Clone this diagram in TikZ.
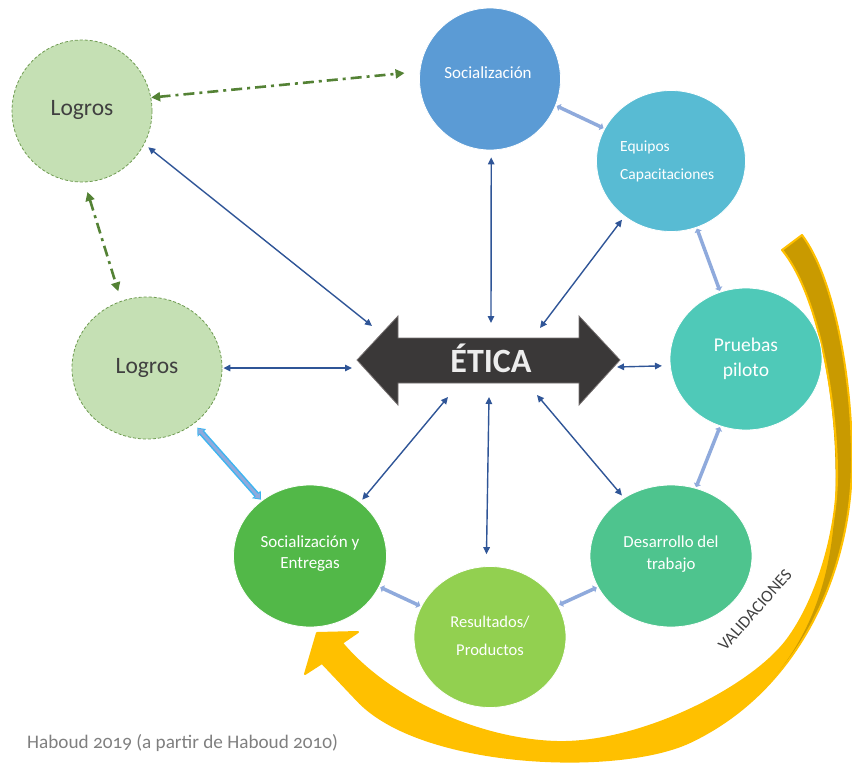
\documentclass[tikz,border=0pt]{standalone}
\usepackage{fontspec}
\setmainfont{Carlito}
\newfontfamily\capfont[Numbers=OldStyle]{Carlito}
\usetikzlibrary{arrows.meta,shapes.geometric}

\definecolor{logrofill}{HTML}{C5E0B4}
\definecolor{logroedge}{HTML}{6E9A50}
\definecolor{logrotext}{HTML}{404040}
\definecolor{socblue}{HTML}{5B9BD5}
\definecolor{equcyan}{HTML}{58BBD3}
\definecolor{pruteal}{HTML}{4FC9B8}
\definecolor{desgreen}{HTML}{4EC48E}
\definecolor{soegreen}{HTML}{52B848}
\definecolor{resgreen}{HTML}{92D050}
\definecolor{linkblue}{HTML}{2F5597}
\definecolor{lightlink}{HTML}{8FAADC}
\definecolor{skyedge}{HTML}{3DB5F0}
\definecolor{dashgreen}{HTML}{548235}
\definecolor{eticafill}{HTML}{3A3838}
\definecolor{eticaedge}{HTML}{767171}
\definecolor{eticatext}{HTML}{EDEDED}
\definecolor{arcyellow}{HTML}{FFC000}
\definecolor{arcgold}{HTML}{C99A00}
\definecolor{captiongray}{HTML}{7F7F7F}

% outline of the curved validation arrow
\def\ribbonpath{(802,235) .. controls (835,279) and (852,380) .. (852,460)
  .. controls (852,570) and (800,690) .. (690,742)
  .. controls (618,776) and (420,768) .. (357,700)
  -- (322,663) -- (305,674) -- (317,633) -- (358,632) -- (342,643)
  .. controls (390,700) and (480,740) .. (557,742)
  .. controls (640,744) and (751,688) .. (787,640)
  .. controls (817,600) and (838,530) .. (837,470)
  .. controls (836,395) and (817,292) .. (782,250) -- cycle}

\begin{document}
\begin{tikzpicture}[x=1pt,y=-1pt,
  stage/.style={ellipse, inner sep=0pt, draw=white, line width=0.8pt},
  logro/.style={ellipse, inner sep=0pt, fill=logrofill, draw=logroedge,
    line width=0.8pt, dash pattern=on 3pt off 2pt},
  stagetext/.style={text=white, align=center, inner sep=0pt},
  logrotxt/.style={text=logrotext, inner sep=0pt, font=\fontsize{23.5}{26}\selectfont},
  biglink/.style={draw=linkblue, line width=1.4pt,
    arrows={Triangle[length=7pt,width=6.5pt]-Triangle[length=7pt,width=6.5pt]}},
  steplink/.style={draw=lightlink, line width=3.5pt,
    arrows={Triangle[length=3.5pt,width=7.5pt]-Triangle[length=3.5pt,width=7.5pt]}},
  greenlink/.style={draw=dashgreen, line width=2.6pt,
    dash pattern=on 11pt off 5pt on 3pt off 5pt,
    arrows={Triangle[length=9pt,width=9pt]-Triangle[length=9pt,width=9pt]}},
]
\useasboundingbox (0,0) rectangle (852,766);

% curved validation arrow: yellow ribbon whose upper part shows its darker back
\fill[arcyellow] \ribbonpath;
\fill[arcgold] (802,235) .. controls (835,279) and (852,380) .. (852,460)
  .. controls (852,542.5) and (822.75,630.6) .. (761.7,691.5)
  .. controls (800,650) and (838,590) .. (835.5,470)
  .. controls (835,395) and (817,292) .. (783,249.5) -- cycle;
\draw[arcyellow, line width=2pt, line join=round] \ribbonpath;
\node[text=logrotext, rotate=48.5, inner sep=0pt,
  font=\fontsize{17}{17}\selectfont] (valid) at (755,610) {VALIDACIONES};

% stage circles
\node[logro, minimum width=140pt, minimum height=142pt] (logA) at (82,111) {};
\node[logro, minimum width=150pt, minimum height=142pt] (logB) at (147,368) {};
\node[stage, fill=socblue, minimum width=141pt, minimum height=142pt] (soc) at (490,79) {};
\node[stage, fill=equcyan, minimum width=149pt, minimum height=141pt] (equ) at (671,161) {};
\node[stage, fill=pruteal, minimum width=152pt, minimum height=142pt] (pru) at (746,359) {};
\node[stage, fill=desgreen, minimum width=162pt, minimum height=142pt] (des) at (671,556) {};
\node[stage, fill=soegreen, minimum width=153pt, minimum height=142pt] (soe) at (310,556) {};
\node[stage, fill=resgreen, minimum width=152pt, minimum height=141pt] (res) at (490,637) {};

% central double arrow
\fill[eticafill, draw=eticaedge, line width=0.8pt]
  (357,360) -- (398,316) -- (398,338) -- (579,338) -- (579,316) -- (620,360)
  -- (579,405) -- (579,383) -- (398,383) -- (398,405) -- cycle;
\node[text=eticatext, inner sep=0pt, anchor=base,
  font=\fontsize{34}{34}\selectfont\bfseries] (etica) at (491,372) {ÉTICA};

% end points around the central arrow
\coordinate (eNW) at (372,326);
\coordinate (eW)  at (352,368);
\coordinate (eN)  at (491,323);
\coordinate (eNE) at (540,328);
\coordinate (eE)  at (617,367);
\coordinate (eSE) at (537,395);
\coordinate (eS)  at (489,397);
\coordinate (eSW) at (448,397);

% links to the central arrow
\draw[biglink, shorten <=5pt] (logA.-28) -- (eNW);
\draw[biglink, shorten <=1pt] (logB.0) -- (eW);
\draw[biglink, shorten <=7pt] (soc.-89) -- (eN);
\draw[biglink, shorten <=4pt] (equ.-130) -- (eNE);
\draw[biglink, shorten <=8pt] (pru.185) -- (eE);
\draw[biglink, shorten <=3pt] (des.129) -- (eSE);
\draw[biglink, shorten <=12pt] (res.93) -- (eS);
\draw[biglink, shorten <=3pt] (soe.47) -- (eSW);

% links between neighbouring stages
\draw[steplink, shorten <=1pt, shorten >=1pt] (soc.-22) -- (equ.154);
\draw[steplink, shorten <=1pt, shorten >=1pt] (equ.-69) -- (pru.111);
\draw[steplink, shorten <=1pt, shorten >=1pt] (pru.-111) -- (des.70);
\draw[steplink, shorten <=1pt, shorten >=1pt] (des.-157) -- (res.25);
\draw[steplink, shorten <=1pt, shorten >=1pt] (res.156) -- (soe.-24);

% framed link between the lower achievements and deliveries
\draw[draw=skyedge, line width=6pt, shorten <=5pt, shorten >=1pt,
  arrows={Triangle[length=7pt,width=11pt]-Triangle[length=7pt,width=11pt]}]
  (logB.-50) -- (soe.131);
\draw[draw=lightlink, line width=3pt, shorten <=6.5pt, shorten >=2.5pt,
  arrows={Triangle[length=4.5pt,width=7pt]-Triangle[length=4.5pt,width=7pt]}]
  (logB.-50) -- (soe.131);

% dash-dot links of the achievements
\draw[greenlink, shorten >=15pt] (logA.11) -- (soc.174);
\draw[greenlink, shorten <=10pt, shorten >=10pt] (logA.-88) -- (logB.111);

% labels
\node[logrotxt] (tlogA) at (82,110) {Logros};
\node[logrotxt] (tlogB) at (147,368) {Logros};
\node[stagetext, font=\fontsize{17}{22}\selectfont] (tsoc) at (488,73) {Socialización};
\node[stagetext, align=left, anchor=west, font=\fontsize{15.5}{28}\selectfont]
  (tequ) at (620,161) {Equipos\\Capacitaciones};
\node[stagetext, font=\fontsize{19.5}{25}\selectfont] (tpru) at (746,359) {Pruebas\\piloto};
\node[stagetext, font=\fontsize{16.8}{22}\selectfont] (tdes) at (671,554) {Desarrollo del\\trabajo};
\node[stagetext, font=\fontsize{17}{21}\selectfont] (tsoe) at (310,554) {Socialización y\\Entregas};
\node[stagetext, font=\fontsize{16.5}{28}\selectfont] (tres) at (490,636) {Resultados/\\Productos};

\node[text=captiongray, anchor=west, inner sep=0pt,
  font=\capfont\fontsize{19.2}{20}\selectfont] (caption) at (27,743)
  {Haboud 2019 (a partir de Haboud 2010)};
\end{tikzpicture}
\end{document}
